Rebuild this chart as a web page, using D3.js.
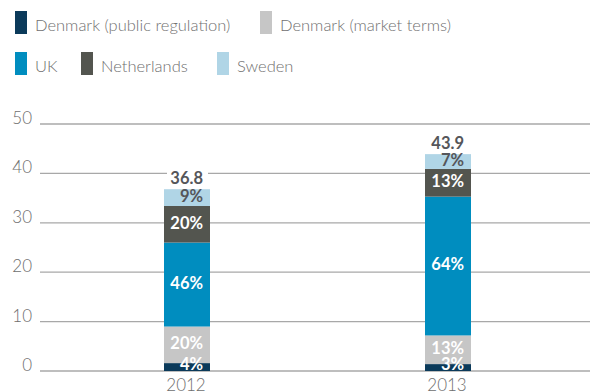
<!DOCTYPE html>
<html>
<head>
<meta charset="utf-8">
<script src="https://cdn.jsdelivr.net/npm/d3@7"></script>
<style>
  html, body { margin: 0; padding: 0; background: #fff; }
  svg { display: block; font-family: Lato, "Open Sans", sans-serif; }
</style>
</head>
<body>
<svg id="chart" width="590" height="392"></svg>
<script>
// Categories and series
const years = ["2012", "2013"];
const seriesNames = ["Denmark (public regulation)", "Denmark (market terms)", "UK", "Netherlands", "Sweden"];
const seriesColors = ["#0b3a5a", "#c6c6c6", "#008dbf", "#53554f", "#b0d5e6"];
// Segment values per series, one entry per year
const dkPublic = [1.6, 1.4];
const dkMarket = [7.4, 5.8];
const uk = [17.0, 28.1];
const netherlands = [7.4, 5.6];
const sweden = [3.4, 3.0];
const yTicks = [0, 10, 20, 30, 40, 50];

const seriesValues = [dkPublic, dkMarket, uk, netherlands, sweden];
const keys = seriesNames;
const rows = years.map((y, i) => {
  const r = { year: y };
  keys.forEach((k, j) => r[k] = seriesValues[j][i]);
  r.total = d3.sum(seriesValues, s => s[i]);
  return r;
});

const svg = d3.select("#chart");
const plotLeft = 40, plotRight = 590;
const y = d3.scaleLinear().domain([0, 50]).range([371, 124]);
const x = d3.scalePoint().domain(years).range([187, 448]);
const barW = 46;
const color = d3.scaleOrdinal().domain(keys).range(seriesColors);

// Legend
const legendRows = [[0, 1], [2, 3, 4]];
const legendX = [[15, 260], [15, 81, 217]];
legendRows.forEach((row, ri) => {
  row.forEach((si, ci) => {
    const g = svg.append("g").attr("transform", `translate(${legendX[ri][ci]},${11 + ri * 41})`);
    g.append("rect").attr("width", 12).attr("height", 23).attr("fill", seriesColors[si]);
    g.append("text").attr("x", 20).attr("y", 20)
      .attr("font-size", 16.5).attr("font-weight", 300).attr("fill", "#707070")
      .text(seriesNames[si]);
  });
});

// Gridlines and y tick labels
const grid = svg.append("g");
grid.selectAll("line").data(yTicks).join("line")
  .attr("x1", plotLeft).attr("x2", plotRight)
  .attr("y1", d => y(d)).attr("y2", d => y(d))
  .attr("stroke", "#a8a8a8").attr("stroke-width", 1.3);
grid.selectAll("text").data(yTicks).join("text")
  .attr("x", 32).attr("y", d => y(d))
  .attr("text-anchor", "end")
  .attr("font-size", 17).attr("font-weight", 300).attr("fill", "#6e6e6e")
  .text(d => d);

// Stacked bars
const stacked = d3.stack().keys(keys)(rows);
const layers = svg.append("g").selectAll("g").data(stacked).join("g")
  .attr("fill", d => color(d.key));
layers.selectAll("rect").data(d => d).join("rect")
  .attr("x", d => x(d.data.year) - barW / 2)
  .attr("width", barW)
  .attr("y", d => y(d[1]))
  .attr("height", d => y(d[0]) - y(d[1]));

// Percentage labels inside segments, right-aligned
const labelRight = 16;
stacked.forEach((layer, li) => {
  layer.forEach(d => {
    const pct = Math.round((d[1] - d[0]) / d.data.total * 100);
    let cy = (y(d[0]) + y(d[1])) / 2 - 1.5;
    cy = Math.min(cy, y(0) - 6.5);
    svg.append("text")
      .attr("x", x(d.data.year) + labelRight)
      .attr("y", cy)
      .attr("dy", "0.36em")
      .attr("text-anchor", "end")
      .attr("font-size", 16.5).attr("font-weight", 700)
      .attr("fill", layer.key === "Sweden" ? "#55565a" : "#ffffff")
      .text(pct + "%");
  });
});

// Totals above bars, with a white backing over the gridlines
rows.forEach(r => {
  const tx = x(r.year) + labelRight;
  const ty = y(r.total) - 5;
  svg.append("rect").attr("x", tx - 36).attr("y", ty - 15).attr("width", 41).attr("height", 17).attr("fill", "#fff");
  svg.append("text").attr("x", tx).attr("y", ty)
    .attr("text-anchor", "end")
    .attr("font-size", 16.5).attr("font-weight", 700).attr("fill", "#55565a")
    .text(d3.format(".1f")(r.total));
});

// Year labels
svg.append("g").selectAll("text").data(years).join("text")
  .attr("x", d => x(d) - 1).attr("y", 391)
  .attr("text-anchor", "middle")
  .attr("font-size", 17).attr("font-weight", 300).attr("fill", "#6e6e6e")
  .text(d => d);
</script>
</body>
</html>
